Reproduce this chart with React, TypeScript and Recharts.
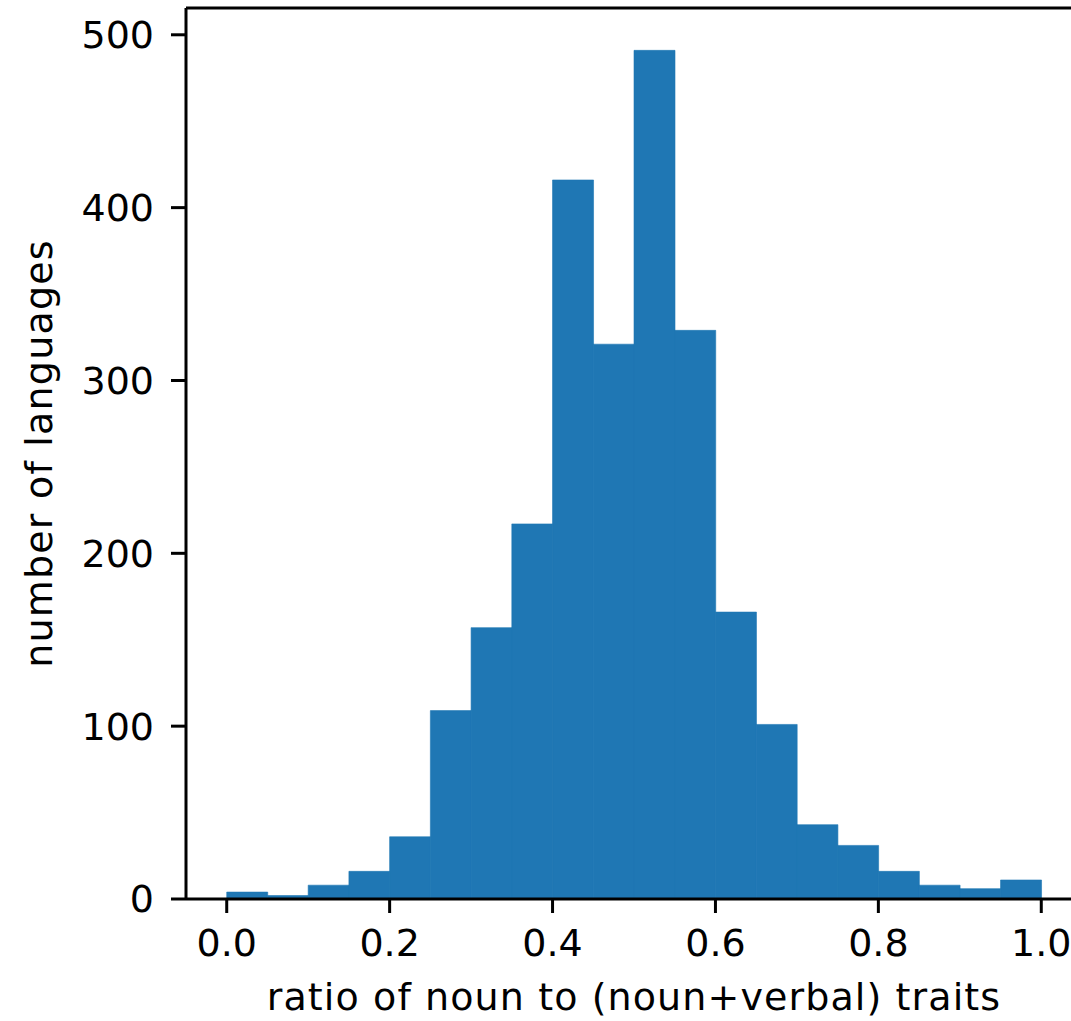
import { Bar, BarChart, ReferenceLine, XAxis, YAxis } from "recharts";

// histogram bins (width 0.05) and counts
const binStarts = [0, 0.05, 0.1, 0.15, 0.2, 0.25, 0.3, 0.35, 0.4, 0.45, 0.5, 0.55, 0.6, 0.65, 0.7, 0.75, 0.8, 0.85, 0.9, 0.95];
const counts = [4, 2, 8, 16, 36, 109, 157, 217, 416, 321, 491, 329, 166, 101, 43, 31, 16, 8, 6, 11];
const xTicks = [0, 0.2, 0.4, 0.6, 0.8, 1.0];
const yTicks = [0, 100, 200, 300, 400, 500];

const BIN_WIDTH = 0.05;
const Y_MAX = 515.5;
const FONT = "DejaVu Sans";
const FONT_SIZE = 38;

const data = binStarts.map((start, i) => ({ x: start + BIN_WIDTH / 2, count: counts[i] }));

const renderYLabel = (props: any) => {
    const vb = props.viewBox || { x: 0, y: 8, width: 186, height: 891 };
    const x = vb.x + 52;
    const y = vb.y + vb.height / 2;
    return (
        <text x={x} y={y} transform={`rotate(-90, ${x}, ${y})`} textAnchor="middle"
            fontSize={FONT_SIZE} fontFamily={FONT} fill="#000" letterSpacing={1.2}>
            number of languages
        </text>
    );
};

export default function App() {
    return (
        <div style={{ position: "absolute", left: 0, top: 0, width: 1071, height: 1021, overflow: "hidden", background: "#fff" }}>
            <BarChart width={1090} height={1021} data={data} barCategoryGap={0} barGap={0}
                margin={{ top: 8, right: 8, left: 0, bottom: 0 }}>
                <XAxis dataKey="x" type="number" domain={[-0.05, 1.05]} ticks={xTicks} allowDataOverflow
                    tickFormatter={(v: number) => v.toFixed(1)} height={122}
                    tickSize={14} tickMargin={16}
                    axisLine={{ stroke: "#000", strokeWidth: 3 }} tickLine={{ stroke: "#000", strokeWidth: 3 }}
                    tick={{ fontSize: FONT_SIZE, fontFamily: FONT, fill: "#000" }}
                    label={{ value: "ratio of noun to (noun+verbal) traits", position: "insideBottom", offset: 11, fontSize: FONT_SIZE, fontFamily: FONT, fill: "#000", letterSpacing: 1.1 }} />
                <YAxis type="number" domain={[0, Y_MAX]} ticks={yTicks} allowDataOverflow width={186}
                    tickSize={15} tickMargin={17}
                    axisLine={{ stroke: "#000", strokeWidth: 3 }} tickLine={{ stroke: "#000", strokeWidth: 3 }}
                    tick={{ fontSize: FONT_SIZE, fontFamily: FONT, fill: "#000" }}
                    label={renderYLabel} />
                <Bar dataKey="count" fill="#1f77b4" stroke="#1f77b4" strokeWidth={0.6} isAnimationActive={false} />
                <ReferenceLine y={Y_MAX} stroke="#000" strokeWidth={3} ifOverflow="extendDomain" />
            </BarChart>
        </div>
    );
}
